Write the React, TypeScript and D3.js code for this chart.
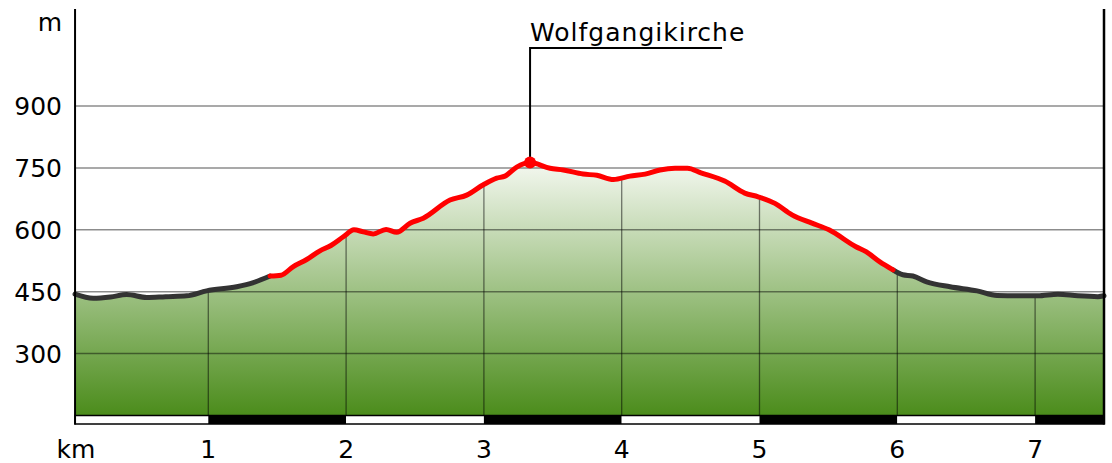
import React from "react";
import * as d3 from "d3";

// Distance along the route (km) and elevation (m)
const kmValues = [
  0.033, 0.165, 0.29, 0.408, 0.553, 0.69, 0.843, 0.988, 1.206, 1.327, 1.448,
  1.528, 1.617, 1.714, 1.81, 1.89, 1.98, 2.057, 2.125, 2.197, 2.29, 2.367,
  2.464, 2.56, 2.754, 2.875, 2.996, 3.093, 3.153, 3.238, 3.335, 3.48, 3.576,
  3.72, 3.82, 3.94, 4.06, 4.17, 4.278, 4.387, 4.477, 4.575, 4.747, 4.893,
  4.99, 5.112, 5.236, 5.381, 5.504, 5.7, 5.773, 5.871, 5.969, 6.04, 6.113,
  6.213, 6.383, 6.579, 6.724, 7.019, 7.166, 7.311, 7.456, 7.5,
];
const elevations = [
  444, 434, 437, 443, 436, 438, 440, 452, 462, 472, 488,
  490, 511, 528, 549, 562, 583, 600, 595, 590, 601, 594,
  616, 628, 672, 684, 709, 725, 730, 752, 763, 749, 745,
  735, 732, 722, 730, 735, 745, 749, 749, 738, 718, 689,
  680, 664, 636, 616, 600, 559, 547, 523, 503, 491, 488,
  474, 462, 452, 441, 440, 444, 440, 438, 440,
];
// Highlighted (red) part of the route
const redFromKm = 1.448;
const redToKm = 5.969;

const xTicks = [1, 2, 3, 4, 5, 6, 7];
const yTicks = [300, 450, 600, 750, 900];
const scaleBarBreaks = [0.033, 1, 2, 3, 4, 5, 6, 7, 7.5];

const poiName = "Wolfgangikirche";
const poiKm = 3.335;
const poiElev = 763;

const FONT = "'DejaVu Sans', Verdana, sans-serif";

export default function App() {
  const W = 1112;
  const H = 463;
  const x = d3.scaleLinear().domain([0, 7.5]).range([70.5, 1104]);
  const y = d3.scaleLinear().domain([150, 1135]).range([415.5, 9]);

  const pts = kmValues.map((k, i) => ({ k, e: elevations[i] }));
  const line = d3
    .line<{ k: number; e: number }>()
    .x((d) => x(d.k))
    .y((d) => y(d.e))
    .curve(d3.curveMonotoneX);
  const area = d3
    .area<{ k: number; e: number }>()
    .x((d) => x(d.k))
    .y0(y(150))
    .y1((d) => y(d.e))
    .curve(d3.curveMonotoneX);

  const seg1 = pts.filter((p) => p.k <= redFromKm);
  const segRed = pts.filter((p) => p.k >= redFromKm && p.k <= redToKm);
  const seg3 = pts.filter((p) => p.k >= redToKm);

  const xL = x(kmValues[0]);
  const xR = x(7.5);
  const barTop = y(150);
  const barBot = 424;

  const px = x(poiKm);
  const py = y(poiElev);
  const leaderY = 48;

  return (
    <svg
      width={W}
      height={H}
      style={{ position: "absolute", left: 0, top: 0, display: "block" }}
      fontFamily={FONT}
    >
      <defs>
        <linearGradient id="fillGrad" x1="0" y1={y(poiElev)} x2="0" y2={y(150)} gradientUnits="userSpaceOnUse">
          <stop offset="0" stopColor="#f4f8f0" />
          <stop offset="1" stopColor="#4b8c1b" />
        </linearGradient>
        <clipPath id="areaClip">
          <path d={area(pts) || ""} />
        </clipPath>
      </defs>
      <rect x={0} y={0} width={W} height={H} fill="#fff" />

      {/* area */}
      <path d={area(pts) || ""} fill="url(#fillGrad)" />

      {/* horizontal grid */}
      {yTicks.map((t) => (
        <line key={t} x1={xL} x2={xR} y1={y(t)} y2={y(t)} stroke="#000" strokeOpacity={0.45} strokeWidth={1.5} />
      ))}
      {/* vertical grid, inside area only */}
      <g clipPath="url(#areaClip)">
        {xTicks.map((t) => (
          <line key={t} x1={x(t)} x2={x(t)} y1={0} y2={barTop} stroke="#000" strokeOpacity={0.5} strokeWidth={1.3} />
        ))}
      </g>

      {/* scale bar */}
      {scaleBarBreaks.slice(0, -1).map((b, i) => (
        <rect
          key={b}
          x={x(b)}
          y={barTop}
          width={x(scaleBarBreaks[i + 1]) - x(b)}
          height={barBot - barTop}
          fill={i % 2 === 0 ? "#fff" : "#000"}
        />
      ))}
      <rect x={xL} y={barTop} width={xR - xL} height={barBot - barTop} fill="none" stroke="#000" strokeWidth={1.5} />

      {/* profile lines */}
      <path d={line(seg1) || ""} fill="none" stroke="#333" strokeWidth={5} strokeLinecap="round" strokeLinejoin="round" />
      <path d={line(seg3) || ""} fill="none" stroke="#333" strokeWidth={5} strokeLinecap="round" strokeLinejoin="round" />
      <path d={line(segRed) || ""} fill="none" stroke="#ff0000" strokeWidth={5} strokeLinecap="round" strokeLinejoin="round" />

      {/* axes */}
      <line x1={xL} x2={xL} y1={9} y2={barBot + 0.5} stroke="#000" strokeWidth={2} />
      <line x1={xR} x2={xR} y1={9} y2={barBot + 0.5} stroke="#000" strokeWidth={2.5} />

      {/* y labels */}
      {yTicks.map((t) => (
        <text key={t} x={62} y={y(t)} dy="0.36em" textAnchor="end" fontSize={25} fill="#000">
          {t}
        </text>
      ))}
      <text x={62} y={22} dy="0.36em" textAnchor="end" fontSize={25} fill="#000">
        m
      </text>

      {/* x labels */}
      <text x={76} y={458} textAnchor="middle" fontSize={25} fill="#000">
        km
      </text>
      {xTicks.map((t) => (
        <text key={t} x={x(t)} y={458} textAnchor="middle" fontSize={25} fill="#000">
          {t}
        </text>
      ))}

      {/* point of interest */}
      <polyline
        points={`${px},${py} ${px},${leaderY} ${px + 192},${leaderY}`}
        fill="none"
        stroke="#000"
        strokeWidth={2}
      />
      <circle cx={px} cy={py} r={6} fill="#ff0000" />
      <text x={px} y={41} fontSize={25} letterSpacing={1} fill="#000">
        {poiName}
      </text>
    </svg>
  );
}
